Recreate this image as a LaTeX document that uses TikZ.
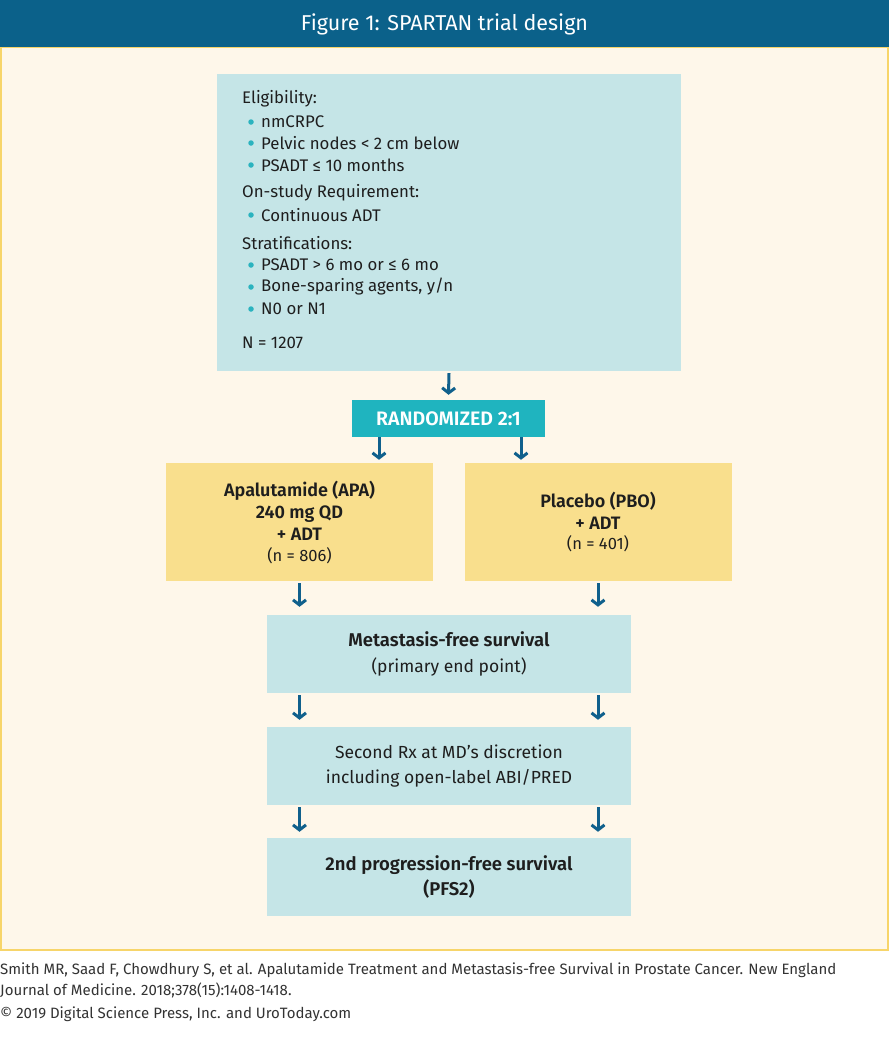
\documentclass[tikz,border=0pt]{standalone}
\usepackage{fontspec}
\setmainfont{Fira Sans}[BoldFont={Fira Sans SemiBold}]
\usetikzlibrary{arrows.meta}
\definecolor{titlebar}{HTML}{0B618A}
\definecolor{panel}{HTML}{FEF7EA}
\definecolor{panelborder}{HTML}{F7D56A}
\definecolor{lightbox}{HTML}{C5E5E7}
\definecolor{randbox}{HTML}{1FB4BF}
\definecolor{armbox}{HTML}{F9DF8D}
\definecolor{arrowblue}{HTML}{10608C}
\definecolor{bulletc}{HTML}{2BB3BF}
\definecolor{txt}{HTML}{1E1E1E}
\definecolor{foot}{HTML}{333333}
\tikzset{
  boxbase/.style={rectangle, inner sep=0pt, align=center, text=txt},
  bluebox/.style={boxbase, fill=lightbox, minimum width=364pt, minimum height=78pt},
  yellowbox/.style={boxbase, fill=armbox, minimum width=267pt, minimum height=118pt},
  arr/.style={draw=arrowblue, line width=3pt, -{Straight Barb[length=5pt,width=13pt]}},
  eltext/.style={anchor=west, inner sep=0pt, text=txt, font=\fontsize{16.8}{19}\selectfont},
  bul/.style={circle, fill=bulletc, inner sep=0pt, minimum size=5.5pt},
  foottext/.style={anchor=west, inner sep=0pt, text=foot, font=\fontsize{15}{18}\selectfont}
}
\begin{document}
\begin{tikzpicture}[x=1pt,y=-1pt]
\useasboundingbox (0,0) rectangle (889,1055);
\fill[white] (0,0) rectangle (889,1055);
% panel, title bar
\draw[panelborder, fill=panel, line width=2pt] (1,47) rectangle (888,950);
\fill[titlebar] (0,0) rectangle (889,47);
\node[text=white, font=\fontsize{21.5}{24}\selectfont, inner sep=0pt] (title) at (444.5,24) {Figure 1: SPARTAN trial design};
% eligibility box
\node[boxbase, fill=lightbox, minimum width=464pt, minimum height=297pt] (elig) at (449,222.5) {};
\node[eltext] (e1) at (242,99) {Eligibility:};
\node[bul] (b1) at (251,122) {};
\node[eltext] (e2) at (261,122) {nmCRPC};
\node[bul] (b2) at (251,143) {};
\node[eltext] (e3) at (261,143) {Pelvic nodes < 2 cm below};
\node[bul] (b3) at (251,165) {};
\node[eltext] (e4) at (261,165) {PSADT ≤ 10 months};
\node[eltext] (e5) at (242,193) {On-study Requirement:};
\node[bul] (b4) at (251,215) {};
\node[eltext] (e6) at (261,215) {Continuous ADT};
\node[eltext] (e7) at (242,243) {Stratifications:};
\node[bul] (b5) at (251,265) {};
\node[eltext] (e8) at (261,265) {PSADT > 6 mo or ≤ 6 mo};
\node[bul] (b6) at (251,287) {};
\node[eltext] (e9) at (261,287) {Bone-sparing agents, y/n};
\node[bul] (b7) at (251,309) {};
\node[eltext] (e10) at (261,309) {N0 or N1};
\node[eltext] (e11) at (242,343) {N = 1207};
% randomized
\node[boxbase, fill=randbox, minimum width=193pt, minimum height=37pt, text=white, font=\fontsize{19.5}{22}\selectfont\bfseries] (rand) at (448.5,418.5) {RANDOMIZED 2:1};
% arms
\node[yellowbox, font=\fontsize{18}{22}\selectfont] (apa) at (299.5,522) {\textbf{Apalutamide (APA)}\\\textbf{240 mg QD}\\\textbf{+ ADT}\\[-1pt]{\fontsize{16.5}{19}\selectfont (n = 806)}};
\node[yellowbox, font=\fontsize{18}{22}\selectfont] (pbo) at (598,522) {\textbf{Placebo (PBO)}\\\textbf{+ ADT}\\[-2pt]{\fontsize{16.5}{19}\selectfont (n = 401)}};
% endpoint boxes
\node[bluebox, font=\fontsize{17.5}{26}\selectfont] (mfs) at (449,654) {{\fontsize{18.5}{26}\selectfont\bfseries Metastasis-free survival}\\(primary end point)};
\node[bluebox, font=\fontsize{17.5}{24.5}\selectfont] (rx) at (449,766) {Second Rx at MD’s discretion\\including open-label ABI/PRED};
\node[bluebox, font=\fontsize{18.5}{25}\selectfont\bfseries] (pfs) at (449,877) {2nd progression-free survival\\(PFS2)};
% arrows
\coordinate (xl) at (379,0);
\coordinate (xr) at (521,0);
\draw[arr] ([yshift=-2pt]elig.south) -- ([yshift=5pt]rand.north);
\draw[arr] (rand.south -| xl) -- ([yshift=3pt]apa.north -| xl);
\draw[arr] (rand.south -| xr) -- ([yshift=3pt]pbo.north -| xr);
\draw[arr] ([yshift=-2pt]apa.south) -- ([yshift=8pt]apa.south |- mfs.north);
\draw[arr] ([yshift=-2pt]pbo.south) -- ([yshift=8pt]pbo.south |- mfs.north);
\draw[arr] ([yshift=-2pt]mfs.south -| apa.south) -- ([yshift=7pt]rx.north -| apa.south);
\draw[arr] ([yshift=-2pt]mfs.south -| pbo.south) -- ([yshift=7pt]rx.north -| pbo.south);
\draw[arr] ([yshift=-2pt]rx.south -| apa.south) -- ([yshift=6pt]pfs.north -| apa.south);
\draw[arr] ([yshift=-2pt]rx.south -| pbo.south) -- ([yshift=6pt]pfs.north -| pbo.south);
% footer
\node[foottext] (f1) at (0,970) {Smith MR, Saad F, Chowdhury S, et al. Apalutamide Treatment and Metastasis-free Survival in Prostate Cancer. New England};
\node[foottext] (f2) at (0,990) {Journal of Medicine. 2018;378(15):1408-1418.};
\node[foottext] (f3) at (0,1014) {© 2019 Digital Science Press, Inc. and UroToday.com};
\end{tikzpicture}
\end{document}
